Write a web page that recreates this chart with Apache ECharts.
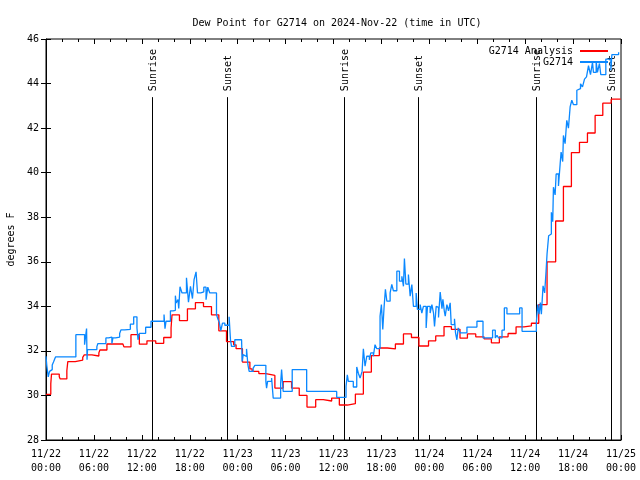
<!DOCTYPE html>
<html>
<head>
<meta charset="utf-8">
<script src="https://cdn.jsdelivr.net/npm/echarts@6/dist/echarts.min.js"></script>
<style>html,body{margin:0;padding:0;background:#fff;}#c{width:640px;height:480px;}</style>
</head>
<body>
<div id="c"></div>
<script>
// Hours since 2024-11-22 00:00 UTC
const analysisHours = [0,0.6,0.69,1.66,1.78,2.61,2.73,3.66,4.6,4.79,5.75,6.62,6.75,7.63,9.63,9.76,10.64,11.69,12.64,13.74,14.74,15.66,15.78,16.71,17.71,18.71,19.72,20.72,21.64,22.6,23.5,23.8,24.6,25.53,25.81,26.65,27.53,28.66,29.7,30.75,31.71,32.68,33.77,34.72,35.77,36.73,37.74,38.74,39.74,40.74,41.74,42.75,43.75,44.76,45.76,46.7,47.9,48.8,49.84,50.76,51.84,52.77,53.81,54.85,55.77,56.77,57.86,58.86,59.86,60.78,61.7,62.74,63.82,64.79,65.79,66.8,67.8,68.76,69.72,70.77,71.95];
const analysisValues = [30.05,30.53,30.96,30.84,30.74,31.11,31.52,31.59,31.71,31.82,31.77,31.91,32.04,32.31,32.25,32.18,32.73,32.3,32.45,32.34,32.6,33.03,33.62,33.36,33.89,34.17,33.99,33.62,32.9,32.42,32.27,32.1,31.5,31.19,31.08,30.98,30.9,30.33,30.62,30.33,30.0,29.48,29.81,29.75,29.88,29.57,29.63,30.06,31.05,31.79,32.13,32.09,32.31,32.76,32.6,32.22,32.45,32.67,33.09,32.97,32.57,32.76,32.63,32.54,32.36,32.63,32.78,33.08,33.12,33.24,34.08,36.0,37.83,39.38,40.9,41.36,41.78,42.57,43.12,43.3,43.3];

const obsHours = [0,0.1,0.28,0.44,0.6,0.78,0.94,1.19,3.74,4.83,5.08,5.14,5.2,6.37,6.5,7.5,7.84,8.25,8.38,8.72,9.22,9.38,9.85,10.56,10.98,11.39,11.52,11.69,12.48,13.15,14.78,14.9,15.03,15.58,15.9,16.2,16.3,16.53,16.62,16.78,17.03,17.25,17.59,17.84,18.09,18.34,18.54,18.79,18.97,19.38,19.76,20.04,20.26,20.51,21.35,21.55,21.68,21.89,22.1,22.39,22.93,23.1,23.23,23.64,24.49,24.56,24.69,24.9,25.11,25.28,25.44,25.94,26.15,27.53,27.62,27.75,28.25,28.45,29.38,29.5,29.7,30.83,32.64,36.4,37.57,37.73,37.86,38.48,38.91,39.11,39.33,39.58,39.74,39.95,40.17,40.49,40.67,40.99,41.2,41.42,41.83,42.0,42.17,42.34,42.5,42.68,43.09,43.3,43.5,43.93,44.26,44.56,44.76,44.88,45.06,45.38,45.6,45.81,46.01,46.35,46.51,46.85,47.06,47.26,47.6,47.77,48.1,48.32,48.52,48.65,48.86,49.02,49.15,49.36,49.58,49.7,49.87,49.99,50.2,50.4,50.61,50.74,51.15,51.28,51.45,51.62,51.87,52.71,53.96,54.72,55.92,56.26,56.47,56.67,57.1,57.39,57.72,59.31,59.61,61.4,61.57,61.74,61.9,62.03,62.24,62.44,62.62,62.74,62.94,63.03,63.28,63.45,63.54,63.75,63.88,64.17,64.38,64.5,64.7,64.79,65.0,65.21,65.42,65.63,65.84,66.05,66.47,66.68,66.93,67.18,67.43,67.68,67.93,68.18,68.43,68.55,68.89,69.05,69.3,69.47,70.1,70.73,70.86,71.7];
const obsValues = [31.76,31.34,30.83,31.08,31.16,31.37,31.5,31.73,32.73,32.28,33.0,31.6,32.06,32.19,32.33,32.58,32.62,32.33,32.58,32.62,32.78,32.94,32.97,33.2,33.53,33.03,32.5,32.79,33.06,33.33,33.63,33.0,33.33,33.8,33.82,34.48,34.15,34.3,33.9,34.88,34.6,34.6,35.28,34.19,34.9,34.35,35.2,35.55,34.6,34.65,34.86,34.3,34.86,34.6,33.62,33.41,33.3,32.91,33.25,33.15,33.53,32.5,32.2,32.5,32.49,31.53,31.83,31.75,32.09,31.38,31.08,31.23,31.35,30.63,30.33,30.63,30.78,29.88,30.53,31.16,30.18,31.16,30.18,29.91,30.41,30.93,30.63,30.38,31.28,31.0,30.78,31.08,32.09,31.31,31.76,31.6,31.91,31.76,32.28,32.1,33.56,34.08,32.96,34.0,34.76,34.23,34.6,34.98,34.7,35.58,35.13,35.35,34.9,36.15,35.0,35.43,34.46,34.98,34.0,34.6,33.86,34.08,33.7,34.0,33.03,34.0,33.7,34.08,33.71,33.1,34.0,33.95,33.5,34.64,33.9,34.31,33.8,33.56,34.08,33.8,34.16,33.18,33.44,32.81,32.5,33.03,32.81,33.07,33.33,32.58,32.93,32.58,32.7,32.58,32.93,33.93,33.66,33.93,32.88,33.26,34.08,33.65,34.17,33.65,34.92,34.6,35.6,36.35,37.17,37.25,38.22,37.8,39.35,39.0,39.94,39.4,40.39,40.92,40.5,41.67,41.3,42.35,42.0,42.95,43.25,43.05,43.7,43.77,43.99,43.85,44.2,44.3,44.8,44.4,44.95,44.5,45.0,44.5,44.9,44.4,45.1,44.6,45.3,45.4,45.86,45.5,45.78,45.03,45.1];

const sunHours = [13.27, 22.67, 37.3, 46.6, 61.4, 70.8];
const sunLabels = ['Sunrise', 'Sunset', 'Sunrise', 'Sunset', 'Sunrise', 'Sunset'];
const sunLineTop = 43.39;

const yMin = 28, yMax = 46, yStep = 2;
const xMin = 0, xMax = 72, xStep = 6;

const FONT = 'DejaVu Sans Mono';
const chart = echarts.init(document.getElementById('c'), null, {renderer: 'canvas'});

const zip = (a, b) => a.map((v, i) => [v, b[i]]);

function xLabel(v) {
  const d = 22 + Math.floor(v / 24);
  const hh = v % 24;
  return '11/' + d + '\n' + String(hh).padStart(2, '0') + ':00';
}

const tickStyle = {lineStyle: {color: '#000', width: 1}};

chart.setOption({
  animation: false,
  backgroundColor: '#fff',
  title: {
    text: 'Dew Point for G2714 on 2024-Nov-22 (time in UTC)',
    left: 332, top: 13, textAlign: 'center',
    textStyle: {fontFamily: FONT, fontSize: 10, fontWeight: 'normal', color: '#000'}
  },
  legend: {
    orient: 'vertical', right: 26, top: 41, align: 'right',
    itemWidth: 28, itemHeight: 8, itemGap: 1,
    itemStyle: {opacity: 0},
    textStyle: {fontFamily: FONT, fontSize: 10, color: '#000', padding: [0, 2, 0, 0]},
    data: ['G2714 Analysis', 'G2714']
  },
  grid: {left: 46, right: 19, top: 39, bottom: 40, show: true, borderColor: '#000', borderWidth: 1, outerBoundsMode: 'none', containLabel: false},
  xAxis: [{
    type: 'value', min: xMin, max: xMax, interval: xStep, position: 'bottom',
    axisLine: {show: true, lineStyle: {color: '#000'}},
    axisTick: {show: true, inside: true, length: 5, ...tickStyle},
    minorTick: {show: true, splitNumber: 3, length: 3, ...tickStyle},
    splitLine: {show: false},
    axisLabel: {formatter: xLabel, fontFamily: FONT, fontSize: 10, color: '#000', lineHeight: 14, margin: 7}
  }, {
    type: 'value', min: xMin, max: xMax, interval: xStep, position: 'top',
    axisLine: {show: false},
    axisTick: {show: true, inside: true, length: 5, ...tickStyle},
    minorTick: {show: true, splitNumber: 3, length: 3, ...tickStyle},
    splitLine: {show: false}, axisLabel: {show: false}
  }],
  yAxis: [{
    type: 'value', min: yMin, max: yMax, interval: yStep, position: 'left',
    name: 'degrees F', nameLocation: 'middle', nameGap: 30,
    nameTextStyle: {fontFamily: FONT, fontSize: 10, color: '#000'},
    axisLine: {show: true, lineStyle: {color: '#000'}},
    axisTick: {show: true, inside: true, length: 5, ...tickStyle},
    splitLine: {show: false},
    axisLabel: {fontFamily: FONT, fontSize: 10, color: '#000', margin: 7}
  }, {
    type: 'value', min: yMin, max: yMax, interval: yStep, position: 'right',
    axisLine: {show: false},
    axisTick: {show: true, inside: true, length: 5, ...tickStyle},
    splitLine: {show: false}, axisLabel: {show: false}
  }],
  series: [{
    name: 'sun', type: 'custom', xAxisIndex: 0, yAxisIndex: 0, silent: true,
    data: sunHours.map((t, i) => [t, sunLineTop, i]),
    encode: {x: 0, y: 1},
    renderItem: function (params, api) {
      const t = api.value(0);
      const idx = api.value(2);
      const p0 = api.coord([t, yMin]);
      const p1 = api.coord([t, api.value(1)]);
      const x = Math.round(p0[0]) + 0.5;
      return {
        type: 'group',
        children: [{
          type: 'line',
          shape: {x1: x, y1: p0[1], x2: x, y2: p1[1]},
          style: {stroke: '#000', lineWidth: 1}
        }, {
          type: 'text', x: x + 1, y: p1[1] - 6, rotation: Math.PI / 2,
          style: {text: sunLabels[idx], font: '10px "' + FONT + '"', fill: '#000', align: 'left', verticalAlign: 'middle'}
        }]
      };
    }
  }, {
    name: 'G2714 Analysis', type: 'line', step: 'end', showSymbol: false, symbol: 'none',
    data: zip(analysisHours, analysisValues),
    lineStyle: {color: '#ff0000', width: 1.3}, itemStyle: {color: '#ff0000'}
  }, {
    name: 'G2714', type: 'line', step: 'end', showSymbol: false, symbol: 'none',
    data: zip(obsHours, obsValues),
    lineStyle: {color: '#0a88ff', width: 1.3}, itemStyle: {color: '#0a88ff'}
  }]
});
</script>
</body>
</html>
